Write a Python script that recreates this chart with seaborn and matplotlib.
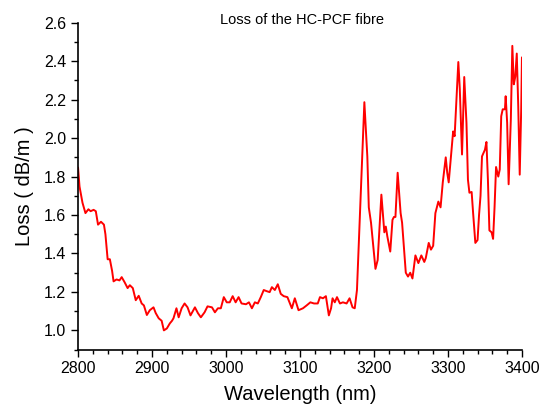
import matplotlib
matplotlib.use("Agg")
import matplotlib.pyplot as plt
from matplotlib.ticker import MultipleLocator, FormatStrFormatter
import seaborn as sns
import pandas as pd

# values
wavelength = [
    2800, 2802, 2804, 2806, 2810, 2814, 2817, 2821, 2824, 2827, 2831, 2835,
    2837, 2840, 2843, 2846, 2848, 2852, 2856, 2859, 2863, 2867, 2870, 2874,
    2878, 2882, 2886, 2889, 2893, 2897, 2902, 2905, 2909, 2913, 2916, 2920,
    2924, 2927, 2929, 2933, 2936, 2940, 2944, 2948, 2952, 2958, 2962, 2966,
    2971, 2975, 2981, 2985, 2989, 2993, 2997, 3001, 3005, 3009, 3013, 3017,
    3021, 3027, 3031, 3035, 3039, 3043, 3047, 3051, 3055, 3059, 3062, 3066,
    3070, 3074, 3078, 3083, 3089, 3093, 3098, 3104, 3109, 3114, 3119, 3124,
    3127, 3131, 3135, 3139, 3142, 3144, 3147, 3150, 3154, 3158, 3163, 3167,
    3171, 3174, 3177, 3187, 3191, 3193, 3196, 3202, 3205, 3210, 3214, 3216,
    3218, 3222, 3225, 3227, 3229, 3232, 3236, 3238, 3243, 3246, 3249, 3252,
    3256, 3260, 3264, 3268, 3270, 3274, 3277, 3280, 3283, 3287, 3290, 3293,
    3297, 3299, 3301, 3304, 3307, 3309, 3311, 3314, 3316, 3319, 3322, 3325,
    3327, 3329, 3332, 3334, 3337, 3340, 3342, 3344, 3346, 3350, 3352, 3354,
    3356, 3359, 3361, 3363, 3365, 3368, 3370, 3372, 3374, 3377, 3378, 3380,
    3382, 3385, 3387, 3389, 3391, 3393, 3395, 3397, 3399, 3400,
]
loss = [
    1.847, 1.748, 1.706, 1.664, 1.61, 1.63, 1.62, 1.627, 1.62, 1.55, 1.565, 1.55,
    1.50, 1.37, 1.37, 1.31, 1.255, 1.265, 1.26, 1.277, 1.25, 1.22, 1.235, 1.22,
    1.157, 1.18, 1.14, 1.13, 1.08, 1.105, 1.12, 1.09, 1.063, 1.05, 1.0, 1.01,
    1.036, 1.05, 1.063, 1.115, 1.068, 1.115, 1.14, 1.12, 1.078, 1.12, 1.09, 1.068,
    1.094, 1.125, 1.12, 1.094, 1.115, 1.115, 1.173, 1.146, 1.146, 1.178, 1.146, 1.173,
    1.14, 1.136, 1.146, 1.115, 1.146, 1.14, 1.173, 1.21, 1.204, 1.199, 1.225, 1.21,
    1.24, 1.19, 1.178, 1.173, 1.115, 1.167, 1.105, 1.115, 1.13, 1.146, 1.14, 1.14,
    1.173, 1.167, 1.178, 1.078, 1.115, 1.167, 1.146, 1.173, 1.14, 1.146, 1.14, 1.167,
    1.12, 1.115, 1.21, 2.187, 1.905, 1.64, 1.56, 1.32, 1.366, 1.706, 1.51, 1.54,
    1.49, 1.41, 1.575, 1.59, 1.59, 1.82, 1.61, 1.56, 1.30, 1.28, 1.30, 1.27,
    1.39, 1.35, 1.39, 1.356, 1.376, 1.455, 1.42, 1.44, 1.61, 1.67, 1.64, 1.77,
    1.90, 1.82, 1.77, 1.905, 2.035, 2.01, 2.166, 2.396, 2.255, 1.915, 2.318, 2.08,
    1.784, 1.716, 1.72, 1.61, 1.455, 1.47, 1.60, 1.70, 1.905, 1.94, 1.98, 1.784,
    1.52, 1.51, 1.476, 1.643, 1.85, 1.80, 1.837, 2.114, 2.15, 2.15, 2.218, 2.08,
    1.76, 2.10, 2.48, 2.28, 2.32, 2.44, 2.166, 1.81, 2.15, 2.42,
]

df = pd.DataFrame({"wavelength": wavelength, "loss": loss})

sns.set_style("ticks")
plt.rcParams["font.family"] = ["Liberation Sans", "DejaVu Sans"]
plt.rcParams["text.color"] = "black"
plt.rcParams["axes.labelcolor"] = "black"
plt.rcParams["xtick.color"] = "black"
plt.rcParams["ytick.color"] = "black"

fig = plt.figure(figsize=(5.42, 4.07), dpi=100)
ax = fig.add_axes([0.144, 0.141, 0.819, 0.803])

sns.lineplot(data=df, x="wavelength", y="loss", color="red", linewidth=1.4, ax=ax)

ax.set_xlim(2800, 3400)
ax.set_ylim(0.9, 2.6)
ax.xaxis.set_major_locator(MultipleLocator(100))
ax.xaxis.set_minor_locator(MultipleLocator(20))
ax.yaxis.set_minor_locator(MultipleLocator(0.1))
ax.set_yticks([1.0, 1.2, 1.4, 1.6, 1.8, 2.0, 2.2, 2.4, 2.6])
ax.yaxis.set_major_formatter(FormatStrFormatter("%.1f"))
ax.tick_params(which="major", direction="out", length=5, width=1, labelsize=11.5)
ax.tick_params(which="minor", direction="out", length=3, width=1)

ax.set_xlabel("Wavelength (nm)", fontsize=14.5, labelpad=6)
ax.set_ylabel("Loss ( dB/m )", fontsize=14.5, labelpad=7)
fig.text(0.557, 0.951, "Loss of the HC-PCF fibre", ha="center", va="center", fontsize=10.5)

sns.despine(ax=ax)
for s in ["left", "bottom"]:
    ax.spines[s].set_color("black")
    ax.spines[s].set_linewidth(1.2)

fig.savefig("out.png", dpi=100)
